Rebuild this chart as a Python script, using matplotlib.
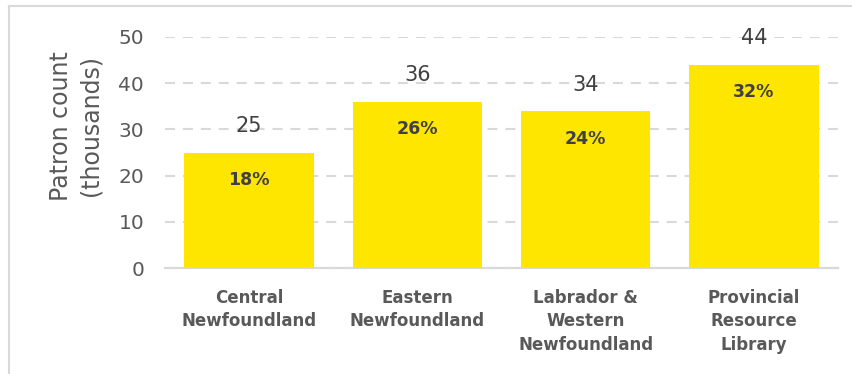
import matplotlib
matplotlib.use("Agg")
import matplotlib.pyplot as plt
from matplotlib.lines import Line2D

regions = ["Central\nNewfoundland", "Eastern\nNewfoundland",
           "Labrador &\nWestern\nNewfoundland", "Provincial\nResource\nLibrary"]
patrons_k = [25, 36, 34, 44]
shares = ["18%", "26%", "24%", "32%"]
y_ticks = [0, 10, 20, 30, 40, 50]

YELLOW = "#FFE600"
TEXT_DARK = "#404040"
TEXT_MID = "#595959"
GRID = "#D9D9D9"

plt.rcParams["font.family"] = ["DejaVu Sans"]

fig = plt.figure(figsize=(8.53, 3.74), dpi=100)
ax = fig.add_axes([165 / 853, 1 - 268 / 374, (838 - 165) / 853, (268 - 37) / 374])

x = list(range(len(regions)))
bars = ax.bar(x, patrons_k, width=0.77, color=YELLOW, zorder=3)

for xi, v, s in zip(x, patrons_k, shares):
    ax.annotate(f"{v}", (xi, v), xytext=(0, 19), textcoords="offset points",
                ha="center", va="center", fontsize=15, color=TEXT_DARK, zorder=4)
    ax.annotate(s, (xi, v), xytext=(0, -20), textcoords="offset points",
                ha="center", va="center", fontsize=12.5, fontweight="bold",
                color=TEXT_DARK, zorder=4)

ax.set_xlim(-0.5, len(regions) - 0.5)
ax.set_ylim(0, 50)
ax.set_yticks(y_ticks)
ax.set_xticks(x)
ax.set_xticklabels(regions, fontsize=12, fontweight="bold", color=TEXT_MID,
                   linespacing=1.4, va="top")
ax.tick_params(axis="y", length=0, pad=15, labelsize=14.5, labelcolor=TEXT_MID)
ax.tick_params(axis="x", length=0, pad=15)

ax.yaxis.grid(True, color=GRID, linestyle=(0, (4.8, 3.8)), linewidth=1.5, zorder=0)
ax.set_axisbelow(True)
for side in ["top", "right", "left"]:
    ax.spines[side].set_visible(False)
ax.spines["bottom"].set_color(GRID)
ax.spines["bottom"].set_linewidth(1.6)

fig.text(76 / 853, 1 - 126 / 374, "Patron count\n(thousands)", rotation=90,
         ha="center", va="center", multialignment="center",
         fontsize=17, color=TEXT_MID, linespacing=1.3)

# thin frame along the top and left edges
fig.add_artist(Line2D([8.5 / 853, 8.5 / 853], [0, 1 - 6 / 374],
                      transform=fig.transFigure, color=GRID, linewidth=1.5))
fig.add_artist(Line2D([8.5 / 853, 1], [1 - 6 / 374, 1 - 6 / 374],
                      transform=fig.transFigure, color=GRID, linewidth=1.5))

fig.savefig("out.png", dpi=100)
